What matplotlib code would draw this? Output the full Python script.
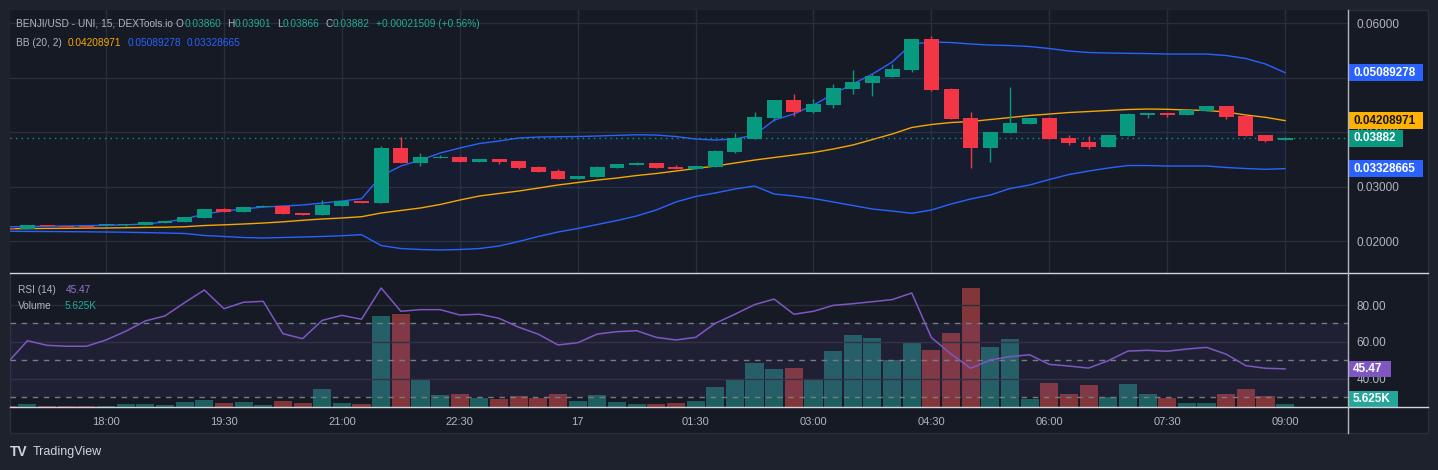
import matplotlib
matplotlib.use("Agg")
import matplotlib.pyplot as plt
from matplotlib import transforms
from matplotlib.lines import Line2D
from matplotlib.patches import Rectangle

plt.rcParams['font.family'] = ['Liberation Sans', 'DejaVu Sans']

# -----------------------------
# data (15 min candles, 16:45 -> 09:00)
# -----------------------------
time_labels = ["18:00", "19:30", "21:00", "22:30", "17", "01:30",
               "03:00", "04:30", "06:00", "07:30", "09:00"]
time_label_idx = [5, 11, 17, 23, 29, 35, 41, 47, 53, 59, 65]

opens = [0.02244, 0.02220, 0.02294, 0.02275, 0.02272, 0.02285, 0.02285, 0.02294, 0.02330, 0.02349,
         0.02422, 0.02587, 0.02532, 0.02624, 0.02642, 0.02514, 0.02477, 0.02642, 0.02734, 0.02697,
         0.03706, 0.03431, 0.03523, 0.03541, 0.03450, 0.03505, 0.03468, 0.03358, 0.03284, 0.03138,
         0.03174, 0.03339, 0.03394, 0.03431, 0.03358, 0.03321, 0.03358, 0.03633, 0.03872, 0.04257,
         0.04587, 0.04367, 0.04495, 0.04789, 0.04899, 0.05009, 0.05138, 0.05706, 0.04789, 0.04257,
         0.03706, 0.03982, 0.04147, 0.04257, 0.03890, 0.03817, 0.03725, 0.03927, 0.04312, 0.04349,
         0.04312, 0.04385, 0.04477, 0.04294, 0.03945, 0.03860]
highs = [0.02248, 0.02297, 0.02297, 0.02278, 0.02275, 0.02302, 0.02320, 0.02351, 0.02374, 0.02442,
         0.02590, 0.02606, 0.02627, 0.02661, 0.02645, 0.02516, 0.02752, 0.02736, 0.02736, 0.03743,
         0.03908, 0.03615, 0.03578, 0.03560, 0.03507, 0.03507, 0.03470, 0.03376, 0.03321, 0.03195,
         0.03376, 0.03415, 0.03450, 0.03433, 0.03394, 0.03378, 0.03670, 0.03982, 0.04367, 0.04589,
         0.04697, 0.04606, 0.04881, 0.05138, 0.05064, 0.05248, 0.05708, 0.05762, 0.04807, 0.04367,
         0.04002, 0.04826, 0.04259, 0.04275, 0.03945, 0.03927, 0.03947, 0.04349, 0.04351, 0.04351,
         0.04406, 0.04479, 0.04479, 0.04312, 0.03947, 0.03901]
lows = [0.02212, 0.02218, 0.02272, 0.02255, 0.02255, 0.02283, 0.02283, 0.02292, 0.02328, 0.02347,
        0.02420, 0.02530, 0.02530, 0.02622, 0.02493, 0.02475, 0.02475, 0.02640, 0.02695, 0.02695,
        0.03429, 0.03376, 0.03521, 0.03448, 0.03448, 0.03420, 0.03321, 0.03264, 0.03136, 0.03136,
        0.03172, 0.03337, 0.03392, 0.03337, 0.03319, 0.03319, 0.03356, 0.03615, 0.03870, 0.04202,
        0.04294, 0.04349, 0.04440, 0.04697, 0.04661, 0.05007, 0.05101, 0.04752, 0.04237, 0.03339,
        0.03450, 0.03980, 0.04145, 0.03870, 0.03761, 0.03688, 0.03723, 0.03925, 0.04257, 0.04275,
        0.04310, 0.04383, 0.04239, 0.03925, 0.03817, 0.03858]
closes = [0.02215, 0.02294, 0.02275, 0.02257, 0.02257, 0.02300, 0.02318, 0.02349, 0.02372, 0.02440,
          0.02587, 0.02532, 0.02624, 0.02642, 0.02495, 0.02477, 0.02661, 0.02734, 0.02697, 0.03706,
          0.03431, 0.03541, 0.03541, 0.03450, 0.03505, 0.03450, 0.03339, 0.03266, 0.03138, 0.03193,
          0.03358, 0.03413, 0.03431, 0.03339, 0.03321, 0.03376, 0.03651, 0.03890, 0.04275, 0.04587,
          0.04367, 0.04514, 0.04807, 0.04917, 0.05028, 0.05156, 0.05706, 0.04771, 0.04239, 0.03706,
          0.04000, 0.04165, 0.04257, 0.03872, 0.03798, 0.03725, 0.03945, 0.04330, 0.04349, 0.04312,
          0.04404, 0.04477, 0.04275, 0.03927, 0.03835, 0.03882]

bb_upper = [0.02261, 0.02266, 0.02272, 0.02275, 0.02283, 0.02288, 0.02297, 0.02312, 0.02349, 0.02404,
            0.02495, 0.02550, 0.02587, 0.02624, 0.02642, 0.02661, 0.02697, 0.02734, 0.02776, 0.03193,
            0.03376, 0.03486, 0.03615, 0.03706, 0.03789, 0.03835, 0.03890, 0.03908, 0.03914, 0.03917,
            0.03927, 0.03939, 0.03949, 0.03945, 0.03917, 0.03872, 0.03853, 0.03872, 0.03945, 0.04220,
            0.04330, 0.04495, 0.04697, 0.04881, 0.05064, 0.05284, 0.05615, 0.05651, 0.05642, 0.05615,
            0.05596, 0.05587, 0.05569, 0.05532, 0.05486, 0.05459, 0.05450, 0.05444, 0.05440, 0.05431,
            0.05431, 0.05431, 0.05404, 0.05349, 0.05248, 0.05089278]
bb_basis = [0.02224, 0.02228, 0.02231, 0.02233, 0.02237, 0.02239, 0.02244, 0.02250, 0.02253, 0.02262,
            0.02284, 0.02297, 0.02312, 0.02330, 0.02352, 0.02380, 0.02404, 0.02422, 0.02446, 0.02514,
            0.02560, 0.02606, 0.02670, 0.02752, 0.02826, 0.02872, 0.02917, 0.02972, 0.03028, 0.03073,
            0.03119, 0.03156, 0.03202, 0.03239, 0.03284, 0.03330, 0.03376, 0.03431, 0.03486, 0.03532,
            0.03578, 0.03624, 0.03688, 0.03761, 0.03862, 0.03963, 0.04083, 0.04138, 0.04174, 0.04193,
            0.04229, 0.04266, 0.04303, 0.04330, 0.04358, 0.04376, 0.04395, 0.04413, 0.04422, 0.04417,
            0.04404, 0.04395, 0.04367, 0.04312, 0.04270, 0.04208971]
bb_lower = [0.02178, 0.02176, 0.02174, 0.02172, 0.02169, 0.02165, 0.02161, 0.02154, 0.02147, 0.02138,
            0.02101, 0.02083, 0.02064, 0.02055, 0.02064, 0.02073, 0.02083, 0.02097, 0.02116, 0.01917,
            0.01862, 0.01844, 0.01835, 0.01844, 0.01862, 0.01908, 0.01991, 0.02083, 0.02165, 0.02229,
            0.02303, 0.02376, 0.02459, 0.02569, 0.02716, 0.02817, 0.02881, 0.02954, 0.03009, 0.02862,
            0.02826, 0.02780, 0.02716, 0.02651, 0.02587, 0.02550, 0.02508, 0.02569, 0.02679, 0.02771,
            0.02844, 0.02963, 0.03028, 0.03128, 0.03220, 0.03284, 0.03339, 0.03385, 0.03385, 0.03376,
            0.03376, 0.03376, 0.03349, 0.03330, 0.03316, 0.03328665]

rsi = [49.0, 60.7, 58.2, 57.7, 57.7, 61.1, 65.8, 71.4, 74.1, 81.3,
       88.1, 78.0, 81.5, 82.0, 64.5, 61.8, 71.7, 74.4, 72.3, 89.2,
       76.6, 77.5, 77.5, 74.6, 75.0, 72.8, 68.0, 64.2, 58.4, 59.6,
       64.3, 65.6, 66.1, 62.5, 61.1, 62.5, 70.1, 75.0, 80.2, 83.2,
       75.0, 76.6, 79.8, 80.7, 81.8, 82.9, 86.5, 62.4, 53.5, 45.8,
       50.3, 52.1, 53.1, 47.9, 47.0, 45.9, 49.9, 55.1, 55.5, 55.0,
       56.2, 57.1, 53.4, 47.2, 45.8, 45.47]

volume_k = [1.9, 5.6, 1.9, 1.9, 1.9, 1.9, 5.6, 5.6, 3.8, 8.8,
            13.1, 7.5, 8.8, 3.8, 11.3, 7.5, 33.8, 7.5, 5.6, 170.6,
            174.4, 50.6, 21.9, 24.4, 16.9, 15.0, 20.6, 16.9, 24.4, 11.3,
            22.5, 9.4, 5.6, 5.6, 7.5, 11.3, 37.5, 52.5, 82.5, 71.3,
            73.1, 52.5, 105.0, 135.0, 129.4, 88.1, 121.9, 106.9, 138.8, 223.1,
            112.5, 127.5, 15.0, 45.0, 24.4, 41.3, 18.8, 43.1, 24.4, 16.9,
            7.5, 7.5, 24.4, 33.8, 20.6, 5.625]

price_ticks = [0.02, 0.03, 0.04, 0.05, 0.06]
price_tick_labels = ["0.02000", "0.03000", "0.04000", "", "0.06000"]  # 0.05 hidden by the tag
rsi_ticks = [40, 60, 80]

# -----------------------------
# colours
# -----------------------------
BG_OUT = '#1e222d'
BG = '#161a25'
GRID = '#2a2e39'
TXT = '#b2b5be'
UP = '#089981'
DOWN = '#f23645'
BLUE = '#2962ff'
ORANGE = '#f7a600'
PURPLE = '#7e57c2'
TEAL = '#22ab94'

W, H = 1438, 470


def rect(x0, y0, x1, y1):
    return [x0 / W, 1 - y1 / H, (x1 - x0) / W, (y1 - y0) / H]


def fx(x):
    return x / W


def fy(y):
    return 1 - y / H


fig = plt.figure(figsize=(W / 100, H / 100), dpi=100, facecolor=BG_OUT)
fig.patches.append(Rectangle((fx(10), fy(433)), fx(1428) - fx(10), fy(10) - fy(433),
                             transform=fig.transFigure, facecolor=BG,
                             edgecolor=GRID, lw=1, zorder=-10))

ax = fig.add_axes(rect(10, 10, 1348, 273))
ax_rsi = fig.add_axes(rect(10, 273, 1348, 407), sharex=ax)
ax_vol = ax_rsi.twinx()
ax_rsi.set_zorder(ax_vol.get_zorder() + 1)
ax_rsi.patch.set_visible(False)

for a in (ax, ax_rsi, ax_vol):
    a.set_facecolor(BG)
    for s in a.spines.values():
        s.set_visible(False)

x = list(range(len(closes)))

# -----------------------------
# price pane
# -----------------------------
ax.fill_between(x, bb_lower, bb_upper, color=BLUE, alpha=0.05, lw=0, zorder=1)
ax.plot(x, bb_upper, color=BLUE, lw=1, zorder=2)
ax.plot(x, bb_lower, color=BLUE, lw=1, zorder=2)
ax.plot(x, bb_basis, color=ORANGE, lw=1, zorder=2)

min_body = 0.00018
for i in x:
    o, h, l, c = opens[i], highs[i], lows[i], closes[i]
    col = UP if c >= o else DOWN
    ax.vlines(i, l, h, color=col, lw=1, zorder=3)
    body = abs(c - o)
    if body < min_body:
        body = min_body
    ax.bar(i, body, bottom=min(o, c), width=0.76, color=col, lw=0, zorder=4)

ax.axhline(closes[-1], color=UP, lw=1, ls=(0, (1, 3)), zorder=2)

ax.set_xlim(0.112, 68.2)
ax.set_ylim(0.01413, 0.06239)
ax.set_yticks(price_ticks)
ax.set_yticklabels(price_tick_labels)
ax.yaxis.tick_right()
ax.set_xticks(time_label_idx)
ax.tick_params(axis='both', length=0, colors=TXT, labelsize=8.5, pad=6)
ax.tick_params(axis='x', labelbottom=False)
ax.grid(True, color=GRID, lw=1)
ax.set_axisbelow(True)

# -----------------------------
# RSI + volume pane
# -----------------------------
vol_cols = ['#26a69a' if closes[i] >= opens[i] else '#ef5350' for i in x]
ax_vol.bar(x, volume_k, width=0.92, color=vol_cols, alpha=0.5, lw=0)
ax_vol.set_ylim(0, 251.25)
ax_vol.set_yticks([])
ax_vol.set_xticks(time_label_idx)
ax_vol.grid(True, axis='x', color=GRID, lw=1)
ax_vol.set_axisbelow(True)

ax_rsi.axhspan(30, 70, color=PURPLE, alpha=0.1, lw=0, zorder=1)
for lvl in (70, 50, 30):
    ax_rsi.axhline(lvl, color='#787b86', lw=1, ls=(0, (4, 4)), zorder=2)
for t in rsi_ticks:
    ax_rsi.axhline(t, color=GRID, lw=1, zorder=0.5)
ax_rsi.plot(x, rsi, color=PURPLE, lw=1.1, zorder=3)
ax_rsi.set_ylim(24.86, 97.3)
ax_rsi.set_yticks(rsi_ticks)
ax_rsi.set_yticklabels(["%.2f" % t for t in rsi_ticks])
ax_rsi.yaxis.tick_right()
ax_rsi.set_xticks(time_label_idx)
ax_rsi.set_xticklabels(time_labels)
ax_rsi.tick_params(axis='both', length=0, colors=TXT, labelsize=8.5, pad=6)
ax_rsi.tick_params(axis='x', pad=7, labelsize=8)


# -----------------------------
# value tags on the right axis
# -----------------------------
def value_tag(axis, yval, text, fc, tc, width_px, px_per_unit):
    trans = transforms.blended_transform_factory(axis.transAxes, axis.transData)
    hh = 16.5 / px_per_unit
    axis.add_patch(Rectangle((1.0, yval - hh / 2), width_px / 1338, hh, transform=trans,
                             facecolor=fc, edgecolor='none', clip_on=False, zorder=10))
    axis.text(1.0 + 5 / 1338, yval, text, transform=trans, color=tc, fontsize=8.5,
              fontweight='bold', va='center', ha='left', clip_on=False, zorder=11)


value_tag(ax, bb_upper[-1], "%.8f" % bb_upper[-1], BLUE, 'white', 75, 5450)
value_tag(ax, bb_basis[-1], "%.8f" % bb_basis[-1], '#ffb300', '#131722', 75, 5450)
value_tag(ax, closes[-1], "%.5f" % closes[-1], UP, 'white', 55, 5450)
value_tag(ax, bb_lower[-1], "%.8f" % bb_lower[-1], BLUE, 'white', 75, 5450)
value_tag(ax_rsi, rsi[-1], "%.2f" % rsi[-1], PURPLE, 'white', 43, 1.85)
value_tag(ax_vol, max(volume_k[-1], 15.0), "%.3fK" % volume_k[-1], '#26a69a', 'white', 50, 1 / 1.875)

# separators
for yy in (273, 407):
    fig.add_artist(Line2D([fx(10), fx(1428)], [fy(yy), fy(yy)], color='#d1d4dc', lw=1))
fig.add_artist(Line2D([fx(1348), fx(1348)], [fy(10), fy(433)], color='#b2b5be', lw=1))

# -----------------------------
# legends
# -----------------------------
def seg(xp, yp, s, col, size=7.3):
    fig.text(fx(xp), fy(yp), s, color=col, fontsize=size, va='center', ha='left')


seg(16, 24, "BENJI/USD - UNI, 15, DEXTools.io", TXT)
seg(176, 24, "O", TXT)
seg(185, 24, "%.5f" % opens[-1], TEAL)
seg(227, 24, "H", TXT)
seg(235, 24, "%.5f" % highs[-1], TEAL)
seg(277, 24, "L", TXT)
seg(283, 24, "0.03866", TEAL)
seg(326, 24, "C", TXT)
seg(333, 24, "%.5f" % closes[-1], TEAL)
seg(376, 24, "+0.00021509 (+0.56%)", TEAL)

seg(16, 43, "BB (20, 2)", TXT)
seg(68, 43, "%.8f" % bb_basis[-1], ORANGE)
seg(128, 43, "%.8f" % bb_upper[-1], BLUE)
seg(187, 43, "%.8f" % bb_lower[-1], BLUE)

seg(18, 290, "RSI (14)", TXT)
seg(66, 290, "%.2f" % rsi[-1], '#9575cd')
seg(18, 306, "Volume", TXT)
seg(65, 306, "%.3fK" % volume_k[-1], TEAL)

fig.text(fx(10), fy(452), "TV", color='#d1d4dc', fontsize=10, fontweight='bold',
         va='center', ha='left')
fig.text(fx(33), fy(452), "TradingView", color='#d1d4dc', fontsize=9,
         va='center', ha='left')

fig.savefig("out.png", dpi=100, facecolor=fig.get_facecolor())
